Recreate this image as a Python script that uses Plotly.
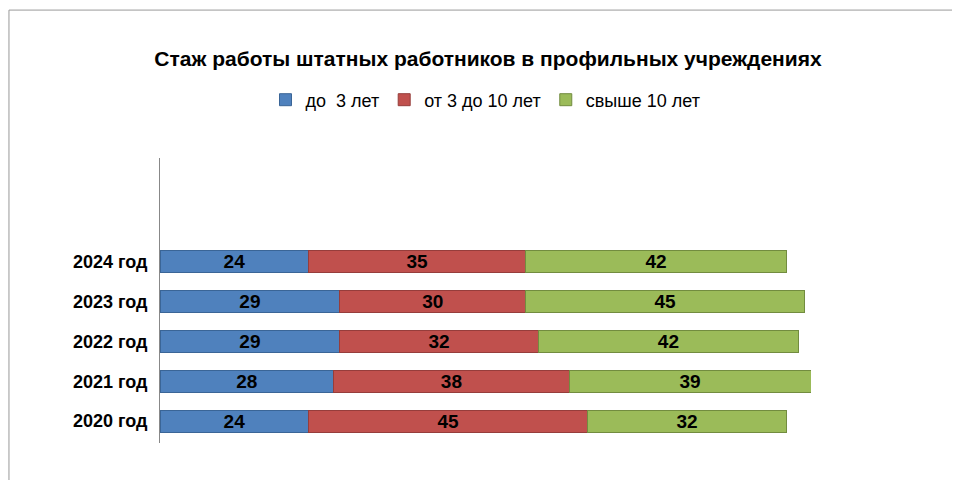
import plotly.graph_objects as go

years = ["2020 год", "2021 год", "2022 год", "2023 год", "2024 год"]
under_3 = [24, 28, 29, 29, 24]
from_3_to_10 = [45, 38, 32, 30, 35]
over_10 = [32, 39, 42, 45, 42]

series = [
    ("до  3 лет", under_3, "#4F81BD", "#3A6597"),
    ("от 3 до 10 лет", from_3_to_10, "#C0504D", "#963D3B"),
    ("свыше 10 лет", over_10, "#9BBB59", "#728C3F"),
]

fig = go.Figure()
for name, vals, color, edge in series:
    fig.add_trace(go.Bar(
        y=years, x=vals, name=name, orientation="h",
        marker=dict(color=color, line=dict(color=edge, width=1)),
        text=vals, textposition="inside", insidetextanchor="middle",
        constraintext="none", cliponaxis=False,
        textfont=dict(family="Liberation Sans", size=19, color="black", weight="bold"),
        width=0.55,
    ))

fig.update_layout(
    barmode="stack",
    width=960, height=480,
    paper_bgcolor="white", plot_bgcolor="white",
    margin=dict(l=152, r=157, t=150, b=45),
    uniformtext=dict(minsize=19, mode="show"),
    title=dict(text="<b>Стаж работы штатных работников в профильных учреждениях</b>",
               x=0.5, xanchor="center", y=0.895, yanchor="middle",
               font=dict(family="Liberation Sans", size=21, color="black")),
    legend=dict(orientation="h", x=0.5, xanchor="center", y=1.2035, yanchor="middle",
                font=dict(family="Liberation Sans", size=18, color="black"),
                traceorder="normal"),
    font=dict(family="Liberation Sans"),
    showlegend=True,
)
fig.update_xaxes(range=[0, 105], visible=False)
fig.update_yaxes(range=[-0.55, 6.6], showline=True, linecolor="#888", linewidth=1,
                 tickfont=dict(family="Liberation Sans", size=18, color="black", weight="bold"),
                 ticks="", ticklabelstandoff=8)
fig.add_shape(type="rect", xref="paper", yref="paper", x0=-0.232, x1=1.237, y0=-0.151, y1=1.519,
              line=dict(color="#999", width=1))
fig.write_html("out.html")
